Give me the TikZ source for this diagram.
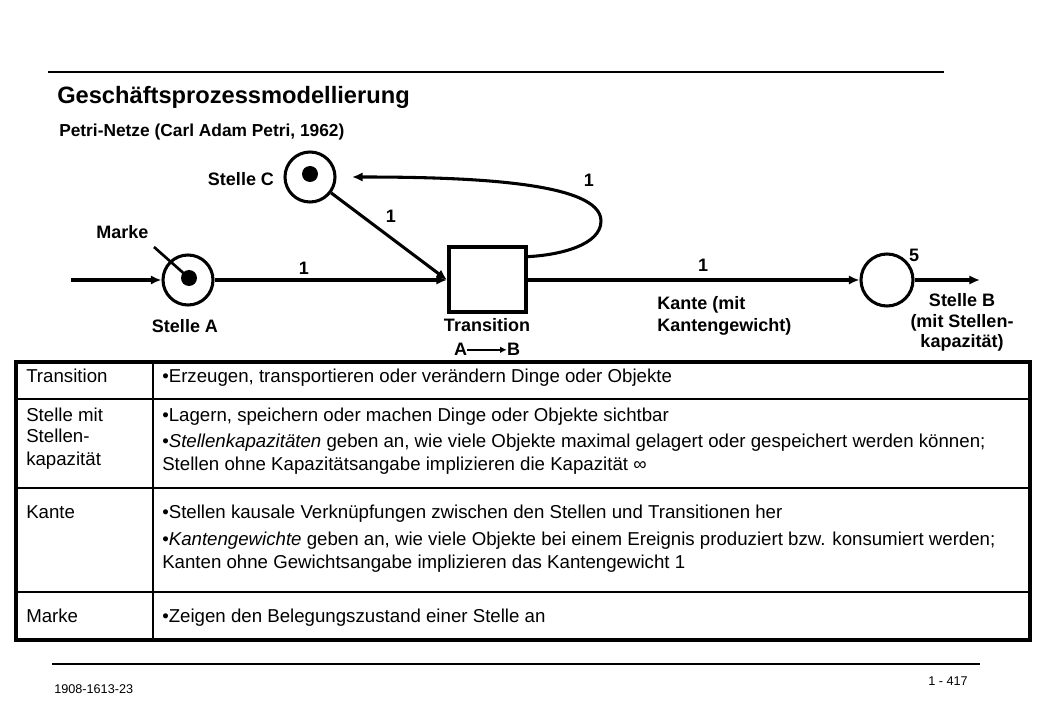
\documentclass[tikz,border=0pt]{standalone}
\usepackage{fontspec}
\setmainfont{Liberation Sans}
\usetikzlibrary{arrows.meta}
\begin{document}
\begin{tikzpicture}[x=0.75pt,y=-0.75pt,
  lbl/.style={font=\bfseries\fontsize{13.5}{16}\selectfont, inner sep=0pt, anchor=base},
  tbl/.style={font=\fontsize{14}{16}\selectfont, inner sep=0pt, anchor=base west},
  place/.style={circle, draw, line width=2.3pt, minimum size=37.5pt, inner sep=0pt},
  token/.style={circle, fill, minimum size=12pt, inner sep=0pt},
  trans/.style={draw, line width=3pt, minimum width=57.75pt, minimum height=48.75pt, inner sep=0pt},
  arc/.style={line width=2.3pt, -{Latex[length=8pt,width=7pt]}},
  rule/.style={line width=1pt},
  foot/.style={font=\fontsize{9.5}{11}\selectfont, inner sep=0pt},
]
\useasboundingbox[fill=white] (0,0) rectangle (1040,720);

% header
\draw[rule] (48,72) -- (944,72);
\node[anchor=base west, inner sep=0pt, font=\bfseries\fontsize{17.75}{20}\selectfont] (title) at (57,104) {Geschäftsprozessmodellierung};
\node[anchor=base west, inner sep=0pt, font=\bfseries\fontsize{13}{16}\selectfont] (subtitle) at (59,137) {Petri-Netze (Carl Adam Petri, 1962)};

% Petri net
\node[place] (A) at (188,280) {};
\node[token] (tA) at (189,278) {};
\node[place] (C) at (310,177) {};
\node[token] (tC) at (310,174) {};
\node[place, minimum size=39pt] (B) at (887,280) {};
\node[trans] (T) at (487.5,280) {};
\coordinate (in) at (71,280);
\coordinate (out) at (980,280);
\coordinate (cend) at (352,177);
\coordinate (mk) at (154,247);

\draw[arc] (in) -- (A);
\draw[arc] (A) -- (T.west);
\draw[arc] (C) -- (T.west);
\draw[arc] (T) -- (B);
\draw[arc] (B) -- (out);
\draw[arc] (T.30) .. controls (560,255) and (601,245) .. (601,221) .. controls (601,182) and (470,177) .. (cend);
\draw[line width=2pt] (mk) -- (tA.center);

\node[lbl] (lC) at (241,186) {Stelle C};
\node[lbl] (lMarke) at (122.5,239) {Marke};
\node[lbl] (w1) at (304,275) {1};
\node[lbl] (w2) at (391,223) {1};
\node[lbl] (w3) at (589,187) {1};
\node[lbl] (w4) at (703,272) {1};
\node[lbl] (cap) at (914,262) {5};
\node[lbl] (lA) at (185,333) {Stelle A};
\node[lbl] (lT) at (487,332) {Transition};
\node[lbl] (lTA) at (460.5,356) {A};
\node[lbl] (lTB) at (513.5,356) {B};
\draw[line width=1.6pt, -{Latex[length=5pt,width=5pt]}] (lTA.east) -- (lTB.west);
\node[lbl, anchor=base west] (lK1) at (657,310) {Kante (mit};
\node[lbl, anchor=base west] (lK2) at (657,332) {Kantengewicht)};
\node[lbl] (lB1) at (962,307) {Stelle B};
\node[lbl] (lB2) at (962,328) {(mit Stellen-};
\node[lbl] (lB3) at (962,348) {kapazität)};

% table
\draw[line width=1pt] (153,362) -- (153,640);
\draw[line width=1.2pt] (16,399) -- (1030,399);
\draw[line width=1.2pt] (16,488) -- (1030,488);
\draw[line width=1.2pt] (16,592) -- (1030,592);
\draw[line width=2.4pt] (16,362) rectangle (1030,640);

\node[tbl] (r1a) at (26,383) {Transition};
\node[tbl] (r1b) at (162,383) {•Erzeugen, transportieren oder verändern Dinge oder Objekte};
\node[tbl] (r2a) at (26,422) {Stelle mit};
\node[tbl] (r2a2) at (26,443) {Stellen-};
\node[tbl] (r2a3) at (26,465) {kapazität};
\node[tbl] (r2b) at (162,422) {•Lagern, speichern oder machen Dinge oder Objekte sichtbar};
\node[tbl] (r2b2) at (162,448) {•\textit{Stellenkapazitäten} geben an, wie viele Objekte maximal gelagert oder gespeichert werden können;};
\node[tbl] (r2b3) at (162,470) {Stellen ohne Kapazitätsangabe implizieren die Kapazität ∞};
\node[tbl] (r3a) at (26,518) {Kante};
\node[tbl] (r3b) at (162,518) {•Stellen kausale Verknüpfungen zwischen den Stellen und Transitionen her};
\node[tbl] (r3b2) at (162,546) {•\textit{Kantengewichte} geben an, wie viele Objekte bei einem Ereignis produziert bzw. konsumiert werden;};
\node[tbl] (r3b3) at (162,568) {Kanten ohne Gewichtsangabe implizieren das Kantengewicht 1};
\node[tbl] (r4a) at (26,622) {Marke};
\node[tbl] (r4b) at (162,622) {•Zeigen den Belegungszustand einer Stelle an};

% footer
\draw[rule] (52,664) -- (980,664);
\node[foot, anchor=base west] (f1) at (54,693) {1908-1613-23};
\node[foot, anchor=base east] (f2) at (968,685) {1 - 417};
\end{tikzpicture}
\end{document}
